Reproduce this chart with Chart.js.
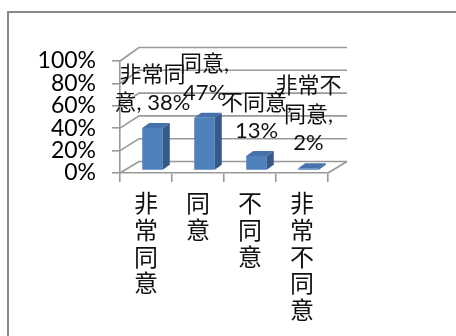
<!DOCTYPE html>
<html><head><meta charset="utf-8">
<script src="https://cdn.jsdelivr.net/npm/chart.js@4/dist/chart.umd.min.js"></script>
<style>
html,body{margin:0;padding:0;background:#fff;overflow:hidden;width:456px;height:336px;}
#frame{position:absolute;left:7px;top:11px;width:600px;height:600px;border:2px solid #8a8a8a;box-sizing:border-box;}
#wrap{position:absolute;left:0;top:0;width:456px;height:336px;}
</style></head><body>
<div id="frame"></div>
<div id="wrap"><canvas id="c" width="456" height="336"></canvas></div>
<script>
const categories = ['非常同意', '同意', '不同意', '非常不同意'];
const values = [38, 47, 13, 2];
const yTicks = [0, 20, 40, 60, 80, 100];
const labelBreaks = [[3], [3], [4], [3, 6]];

const GRID = '#999999';
const DEPTH_X = 19;
const depthY = v => -11.5 - 2 * (v / 100);
const BAR_SHIFT = { x: 6.5, y: -2.5 };
const BAR_DEPTH = { x: 7, y: -5 };

function wrapLabel(i) {
  const s = categories[i] + ', ' + values[i] + '%';
  const out = [];
  let start = 0;
  labelBreaks[i].forEach(b => { out.push(s.slice(start, b).trim()); start = b; });
  out.push(s.slice(start).trim());
  return out;
}

const threeD = {
  id: 'threeD',
  beforeDatasetsDraw(chart) {
    const { ctx, chartArea: a, scales: { y } } = chart;
    ctx.save();
    ctx.strokeStyle = GRID; ctx.lineWidth = 1.6;
    yTicks.forEach(v => {
      const py = y.getPixelForValue(v); const dy = depthY(v);
      ctx.beginPath();
      ctx.moveTo(a.left, py);
      ctx.lineTo(a.left + DEPTH_X, py + dy);
      ctx.lineTo(a.right + DEPTH_X, py + dy);
      ctx.stroke();
    });
    const p0 = y.getPixelForValue(0);
    ctx.beginPath(); ctx.moveTo(a.right, p0); ctx.lineTo(a.right + DEPTH_X, p0 + depthY(0)); ctx.stroke();
    ctx.restore();
    ctx.save();
    ctx.translate(BAR_SHIFT.x, BAR_SHIFT.y);
  },
  afterDatasetsDraw(chart) {
    const ctx = chart.ctx;
    const meta = chart.getDatasetMeta(0);
    meta.data.forEach(bar => {
      const { x, y, base, width } = bar.getProps(['x', 'y', 'base', 'width'], true);
      const l = x - width / 2, r = x + width / 2;
      ctx.fillStyle = '#36598a';
      ctx.beginPath(); ctx.moveTo(r, y); ctx.lineTo(r + BAR_DEPTH.x, y + BAR_DEPTH.y);
      ctx.lineTo(r + BAR_DEPTH.x, base + BAR_DEPTH.y); ctx.lineTo(r, base); ctx.closePath(); ctx.fill();
      ctx.fillStyle = '#4672ac';
      ctx.beginPath(); ctx.moveTo(l, y); ctx.lineTo(l + BAR_DEPTH.x, y + BAR_DEPTH.y);
      ctx.lineTo(r + BAR_DEPTH.x, y + BAR_DEPTH.y); ctx.lineTo(r, y); ctx.closePath(); ctx.fill();
    });
    ctx.fillStyle = '#111';
    ctx.font = "22px Lato, 'Noto Sans CJK TC'";
    ctx.textAlign = 'center'; ctx.textBaseline = 'middle';
    meta.data.forEach((bar, i) => {
      const lines = wrapLabel(i);
      const n = lines.length;
      lines.forEach((t, j) => ctx.fillText(t, bar.x, bar.y - 25 - (n - 1 - j) * 28.5));
    });
    ctx.restore();
  }
};

new Chart(document.getElementById('c'), {
  type: 'bar',
  data: {
    labels: categories,
    datasets: [{ data: values, backgroundColor: '#4f81bd', borderWidth: 0, barPercentage: 0.395, categoryPercentage: 1 }]
  },
  options: {
    responsive: false, animation: false, devicePixelRatio: 1,
    layout: { padding: { left: 0, top: 61, right: 128, bottom: 0 } },
    plugins: { legend: { display: false }, tooltip: { enabled: false } },
    scales: {
      x: {
        afterFit: s => { s.height = 163; },
        grid: { display: true, drawOnChartArea: false, drawTicks: true, tickLength: 9, color: GRID, lineWidth: 1.6, offset: true },
        border: { display: true, color: GRID, width: 1.6 },
        ticks: {
          autoSkip: false, maxRotation: 0, minRotation: 0, padding: 8, color: '#111',
          font: { family: "'Noto Sans CJK TC'", size: 24, lineHeight: 1.11 },
          callback: function (v) { return categories[v].split(''); }
        }
      },
      y: {
        min: 0, max: 100,
        afterFit: s => { s.width = 120; },
        afterBuildTicks: s => { s.ticks = yTicks.map(v => ({ value: v })); },
        grid: { display: true, drawOnChartArea: false, drawTicks: true, tickLength: 8, color: GRID, lineWidth: 1.6 },
        border: { display: true, color: GRID, width: 1.6 },
        ticks: {
          autoSkip: false, stepSize: 20, padding: 16, color: '#000',
          font: { family: 'Lato', size: 23 },
          callback: v => v + '%'
        }
      }
    }
  },
  plugins: [threeD]
});
</script>
</body></html>
